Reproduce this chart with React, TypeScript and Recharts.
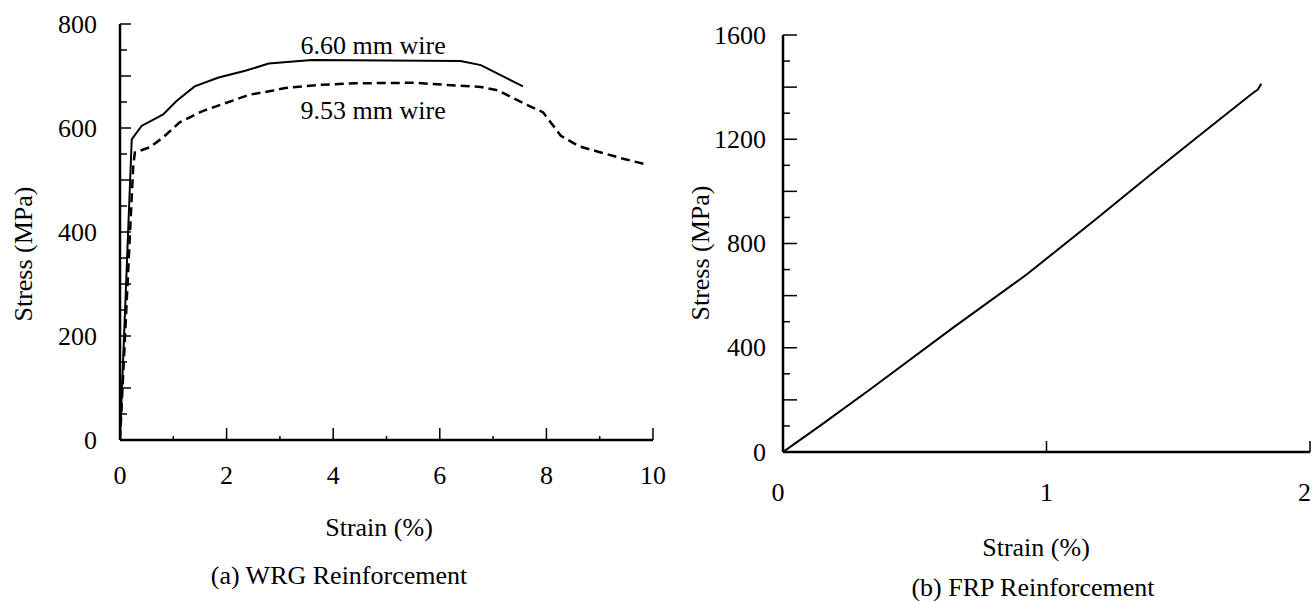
import React from 'react';
import { LineChart, Line, XAxis, YAxis, Label, ReferenceDot } from 'recharts';

// ---------- Data (a) WRG reinforcement ----------
const wire660Strain = [0, 0.22, 0.405, 0.81, 1.06, 1.4, 1.85, 2.35, 2.79, 3.6, 6.39, 6.77, 7.56];
const wire660Stress = [0, 578, 604, 626, 652, 680, 697, 710, 724, 731, 729, 721, 680];
const wire953Strain = [0, 0.25, 0.28, 0.56, 0.81, 1.12, 1.56, 2.18, 2.43, 2.87, 3.1, 3.76, 4.43, 5.52, 6.1, 6.77, 7.1, 7.56, 7.94, 8.27, 8.61, 9.02, 9.44, 9.9];
const wire953Stress = [0, 530, 553, 563, 582, 611, 633, 655, 664, 672, 677, 683, 686, 687, 683, 679, 672, 648, 630, 585, 565, 553, 541, 529];
const wrgXTicks = [0, 1, 2, 3, 4, 5, 6, 7, 8, 9, 10];
const wrgYTicks = [0, 50, 100, 150, 200, 250, 300, 350, 400, 450, 500, 550, 600, 650, 700, 750, 800];

// ---------- Data (b) FRP reinforcement ----------
const frpStrain = [0, 0.14, 0.33, 0.647, 0.927, 1.18, 1.427, 1.586, 1.776, 1.802, 1.815];
const frpStress = [0, 100, 240, 478, 683, 887, 1091, 1219, 1372, 1391, 1413];
const frpXTicks = [0, 1, 2];
const frpYTicks = [0, 100, 200, 300, 400, 500, 600, 700, 800, 900, 1000, 1100, 1200, 1300, 1400, 1500, 1600];

const wire660 = wire660Strain.map((x, i) => ({ x, y: wire660Stress[i] }));
const wire953 = wire953Strain.map((x, i) => ({ x, y: wire953Stress[i] }));
const frp = frpStrain.map((x, i) => ({ x, y: frpStress[i] }));

const FONT = '"Liberation Serif", "Times New Roman", serif';
const FS = 26;

const txt = (extra: any = {}) => ({
  fontFamily: FONT,
  fontSize: FS,
  fill: '#000',
  ...extra,
});

// Left chart Y tick: ticks every 50, longer every 100, label every 200
const WrgYTick = (props: any) => {
  const { x, y, payload } = props;
  const v = payload.value;
  const len = v % 100 === 0 ? 11 : 7;
  return (
    <g>
      <line x1={x} x2={x + len} y1={y} y2={y} stroke="#000" strokeWidth={1.5} />
      {v % 200 === 0 && (
        <text x={x - 23} y={y} textAnchor="end" dominantBaseline="central" {...txt()}>
          {v}
        </text>
      )}
    </g>
  );
};

const WrgXTick = (props: any) => {
  const { x, y, payload } = props;
  const v = payload.value;
  const major = v % 2 === 0;
  return (
    <g>
      {v !== 0 && (
        <line x1={x} x2={x} y1={y} y2={y - (major ? 12 : 4)} stroke="#000" strokeWidth={1.5} />
      )}
      {major && (
        <text x={x} y={y + 35} textAnchor="middle" dominantBaseline="central" {...txt()}>
          {v}
        </text>
      )}
    </g>
  );
};

const FrpYTick = (props: any) => {
  const { x, y, payload } = props;
  const v = payload.value;
  const len = v % 200 === 0 ? 14 : 7;
  return (
    <g>
      {v !== 0 && <line x1={x} x2={x + len} y1={y} y2={y} stroke="#000" strokeWidth={1.5} />}
      {v % 400 === 0 && (
        <text x={x - 17} y={y} textAnchor="end" dominantBaseline="central" {...txt()}>
          {v}
        </text>
      )}
    </g>
  );
};

const FrpXTick = (props: any) => {
  const { x, y, payload, index } = props;
  const v = payload.value;
  const last = index === frpXTicks.length - 1;
  return (
    <g>
      {v !== 0 && <line x1={x} x2={x} y1={y} y2={y - 11} stroke="#000" strokeWidth={1.5} />}
      <text
        x={v === 0 ? x - 5 : last ? x + 1 : x}
        y={y + 40}
        textAnchor={last ? 'end' : 'middle'}
        dominantBaseline="central"
        {...txt()}
      >
        {v}
      </text>
    </g>
  );
};

const centerText = (value: string, dx: number, dy: number) => (props: any) => {
  const vb = props.viewBox;
  return (
    <text
      x={vb.x + vb.width / 2 + dx}
      y={vb.y + dy}
      textAnchor="middle"
      dominantBaseline="central"
      {...txt()}
    >
      {value}
    </text>
  );
};

const yTitle = (value: string, fromAxis: number, dy: number) => (props: any) => {
  const vb = props.viewBox;
  const cx = vb.x + vb.width - fromAxis;
  const cy = vb.y + vb.height / 2 + dy;
  return (
    <text
      x={cx}
      y={cy}
      transform={`rotate(-90 ${cx} ${cy})`}
      textAnchor="middle"
      dominantBaseline="central"
      {...txt()}
    >
      {value}
    </text>
  );
};

const axisLine = { stroke: '#000', strokeWidth: 2.5 };

export default function App() {
  return (
    <div style={{ position: 'absolute', left: 0, top: 0, width: 1312, height: 601, background: '#fff', overflow: 'hidden' }}>
      <div style={{ position: 'absolute', left: 0, top: 0 }}>
        <LineChart width={680} height={601} margin={{ top: 24, right: 27, bottom: 101, left: 20 }}>
          <XAxis
            type="number"
            dataKey="x"
            domain={[0, 10]}
            ticks={wrgXTicks}
            interval={0}
            tickSize={0}
            tickMargin={0}
            tickLine={false}
            axisLine={axisLine}
            height={60}
            tick={<WrgXTick />}
            allowDataOverflow
          >
            <Label content={centerText('Strain (%)', -7.5, 87)} />
            <Label content={centerText('(a) WRG Reinforcement', -47.5, 135)} />
          </XAxis>
          <YAxis
            type="number"
            domain={[0, 800]}
            ticks={wrgYTicks}
            interval={0}
            tickSize={0}
            tickMargin={0}
            tickLine={false}
            axisLine={axisLine}
            width={100}
            tick={<WrgYTick />}
            allowDataOverflow
          >
            <Label content={yTitle('Stress (MPa)', 97, 22)} />
          </YAxis>
          <Line
            data={wire660}
            dataKey="y"
            type="linear"
            stroke="#000"
            strokeWidth={2}
            dot={false}
            isAnimationActive={false}
          />
          <Line
            data={wire953}
            dataKey="y"
            type="linear"
            stroke="#000"
            strokeWidth={2.5}
            strokeDasharray="9 5"
            dot={false}
            isAnimationActive={false}
          />
          <ReferenceDot
            x={4.75}
            y={760}
            r={0}
            fill="none"
            stroke="none"
            label={{ value: '6.60 mm wire', position: 'center', fontFamily: FONT, fontSize: FS, fill: '#000' }}
          />
          <ReferenceDot
            x={4.75}
            y={636}
            r={0}
            fill="none"
            stroke="none"
            label={{ value: '9.53 mm wire', position: 'center', fontFamily: FONT, fontSize: FS, fill: '#000' }}
          />
        </LineChart>
      </div>
      <div style={{ position: 'absolute', left: 680, top: 0 }}>
        <LineChart width={632} height={601} margin={{ top: 35, right: 2, bottom: 89, left: 3 }}>
          <XAxis
            type="number"
            dataKey="x"
            domain={[0, 2]}
            ticks={frpXTicks}
            interval={0}
            tickSize={0}
            tickMargin={0}
            tickLine={false}
            axisLine={axisLine}
            height={60}
            tick={<FrpXTick />}
            allowDataOverflow
          >
            <Label content={centerText('Strain (%)', -10.5, 95)} />
            <Label content={centerText('(b) FRP Reinforcement', -13.5, 135)} />
          </XAxis>
          <YAxis
            type="number"
            domain={[0, 1600]}
            ticks={frpYTicks}
            interval={0}
            tickSize={0}
            tickMargin={0}
            tickLine={false}
            axisLine={axisLine}
            width={100}
            tick={<FrpYTick />}
            allowDataOverflow
          >
            <Label content={yTitle('Stress (MPa)', 83, 9.5)} />
          </YAxis>
          <Line
            data={frp}
            dataKey="y"
            type="linear"
            stroke="#000"
            strokeWidth={2}
            dot={false}
            isAnimationActive={false}
          />
        </LineChart>
      </div>
    </div>
  );
}
